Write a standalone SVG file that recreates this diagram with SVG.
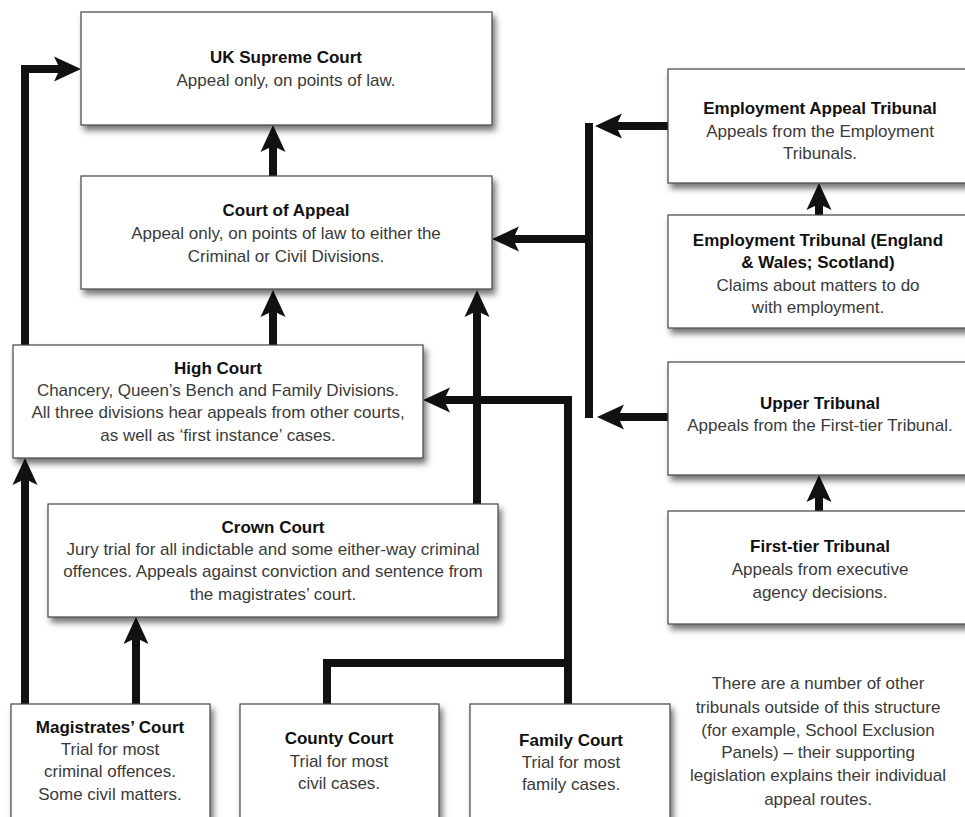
<svg xmlns="http://www.w3.org/2000/svg" width="965" height="817" viewBox="0 0 965 817">
<defs>
<filter id="sh" x="-10%" y="-10%" width="125%" height="140%">
<feDropShadow dx="3" dy="5" stdDeviation="3" flood-color="#000" flood-opacity="0.55"/>
</filter>
<marker id="ah" markerUnits="userSpaceOnUse" markerWidth="40" markerHeight="40" viewBox="-20 -20 40 40" refX="0" refY="0" orient="auto" overflow="visible">
<path d="M15,0 L-12,-12.5 L-6,0 L-12,12.5 Z" fill="#111"/>
</marker>
<style>
.box{fill:#fff;stroke:#444;stroke-width:1.2;filter:url(#sh)}
.t{font-family:"Liberation Sans",Arial,sans-serif;font-size:17px;font-weight:bold;fill:#111;text-anchor:middle}
.b{font-family:"Liberation Sans",Arial,sans-serif;font-size:17px;fill:#3a3a3a;text-anchor:middle}
.c{fill:none;stroke:#111;stroke-width:8;stroke-linejoin:miter}
.a{marker-end:url(#ah)}
</style>
</defs>
<rect width="965" height="817" fill="#fff"/>

<g id="connectors">
<path class="c a" d="M25,345 V69 H66"/>
<path class="c a" d="M25,704 V473"/>
<path class="c a" d="M136,704 V632"/>
<path class="c a" d="M477,504 V305"/>
<path class="c a" d="M273,345 V305"/>
<path class="c a" d="M273,176 V140"/>
<path class="c a" d="M327,704 V663 H568 V400 H438"/>
<path class="c" d="M568,704 V663"/>
<path class="c a" d="M668,126 H610"/>
<path class="c a" d="M668,417 H612"/>
<path class="c" d="M589,123 V418"/>
<path class="c a" d="M589,239 H507"/>
<path class="c a" d="M819,215 V198"/>
<path class="c a" d="M819,511 V490"/>
</g>

<g id="supreme">
<rect class="box" x="81" y="12" width="411" height="113"/>
<text class="t" x="286" y="63">UK Supreme Court</text>
<text class="b" x="286" y="86">Appeal only, on points of law.</text>
</g>

<g id="appeal">
<rect class="box" x="81" y="176" width="411" height="113"/>
<text class="t" x="286" y="216">Court of Appeal</text>
<text class="b" x="286" y="239">Appeal only, on points of law to either the</text>
<text class="b" x="286" y="262">Criminal or Civil Divisions.</text>
</g>

<g id="high">
<rect class="box" x="13" y="345" width="410" height="113"/>
<text class="t" x="218" y="374">High Court</text>
<text class="b" x="218" y="396">Chancery, Queen’s Bench and Family Divisions.</text>
<text class="b" x="218" y="418">All three divisions hear appeals from other courts,</text>
<text class="b" x="218" y="441">as well as ‘first instance’ cases.</text>
</g>

<g id="crown">
<rect class="box" x="48" y="504" width="450" height="113"/>
<text class="t" x="273" y="533">Crown Court</text>
<text class="b" x="273" y="555">Jury trial for all indictable and some either-way criminal</text>
<text class="b" x="273" y="577">offences. Appeals against conviction and sentence from</text>
<text class="b" x="273" y="600">the magistrates’ court.</text>
</g>

<g id="magistrates">
<rect class="box" x="11" y="704" width="199" height="130"/>
<text class="t" x="110" y="733">Magistrates’ Court</text>
<text class="b" x="110" y="755">Trial for most</text>
<text class="b" x="110" y="777">criminal offences.</text>
<text class="b" x="110" y="800">Some civil matters.</text>
</g>

<g id="county">
<rect class="box" x="240" y="704" width="199" height="130"/>
<text class="t" x="339" y="744">County Court</text>
<text class="b" x="339" y="767">Trial for most</text>
<text class="b" x="339" y="789">civil cases.</text>
</g>

<g id="family">
<rect class="box" x="470" y="704" width="200" height="130"/>
<text class="t" x="571" y="746">Family Court</text>
<text class="b" x="571" y="768">Trial for most</text>
<text class="b" x="571" y="790">family cases.</text>
</g>

<g id="eat">
<rect class="box" x="668" y="69" width="310" height="114"/>
<text class="t" x="820" y="114">Employment Appeal Tribunal</text>
<text class="b" x="820" y="137">Appeals from the Employment</text>
<text class="b" x="820" y="159">Tribunals.</text>
</g>

<g id="et">
<rect class="box" x="668" y="215" width="310" height="113"/>
<text class="t" x="818" y="246">Employment Tribunal (England</text>
<text class="t" x="818" y="268">&amp; Wales; Scotland)</text>
<text class="b" x="818" y="291">Claims about matters to do</text>
<text class="b" x="818" y="313">with employment.</text>
</g>

<g id="upper">
<rect class="box" x="668" y="362" width="310" height="113"/>
<text class="t" x="820" y="409">Upper Tribunal</text>
<text class="b" x="820" y="431">Appeals from the First-tier Tribunal.</text>
</g>

<g id="firsttier">
<rect class="box" x="668" y="511" width="310" height="113"/>
<text class="t" x="820" y="552">First-tier Tribunal</text>
<text class="b" x="820" y="575">Appeals from executive</text>
<text class="b" x="820" y="598">agency decisions.</text>
</g>

<g id="note">
<text class="b" x="818" y="689">There are a number of other</text>
<text class="b" x="818" y="713">tribunals outside of this structure</text>
<text class="b" x="818" y="736">(for example, School Exclusion</text>
<text class="b" x="818" y="758">Panels) – their supporting</text>
<text class="b" x="818" y="781">legislation explains their individual</text>
<text class="b" x="818" y="805">appeal routes.</text>
</g>
</svg>
